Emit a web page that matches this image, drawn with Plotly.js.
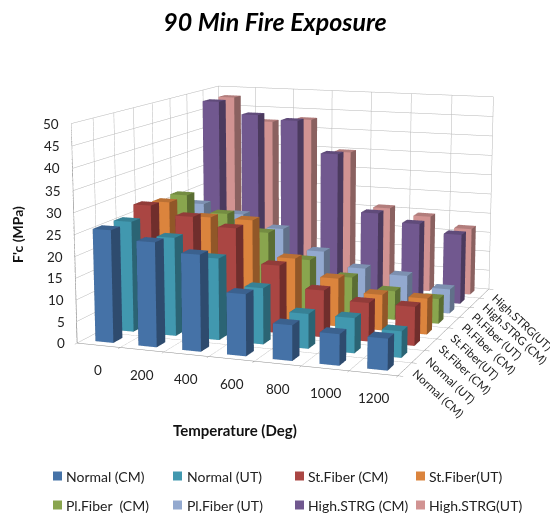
<!DOCTYPE html>
<html><head><meta charset="utf-8">
<script src="https://cdn.plot.ly/plotly-3.0.1.min.js"></script>
<style>html,body{margin:0;padding:0;background:#fff;overflow:hidden}#w{position:relative;width:550px;height:518px;overflow:hidden}#c{position:absolute}</style></head>
<body><div id="w"><div id="c"></div></div>
<script>
const temperatures = ['0','200','400','600','800','1000','1200'];
const seriesNames = ['Normal (CM)','Normal (UT)','St.Fiber (CM)','St.Fiber(UT)','Pl.Fiber  (CM)','Pl.Fiber (UT)','High.STRG (CM)','High.STRG(UT)'];
const normalCM = [26,24,22,14,8,7,7];
const normalUT = [26,23,19,13,8,8,6];
const stFiberCM = [28,26,24,16,11,9,9];
const stFiberUT = [27,24,24,15.5,11.5,8.5,8.5];
const plFiberCM = [27,23,19,13,9.5,7,6];
const plFiberUT = [23,21,18,13,9.5,8.5,6];
const highCM = [48,45,44,36,21.5,19.5,17.5];
const highUT = [48,42,43,35,21,19.5,17];
const colours = ['#4572A7','#4198AF','#AA4643','#DB843D','#89A54E','#93A9CF','#71588F','#D19392'];
const zTicks = [0,5,10,15,20,25,30,35,40,45,50];
const allValues = [normalCM,normalUT,stFiberCM,stFiberUT,plFiberCM,plFiberUT,highCM,highUT];

const W=620,H=1300,cx=297,cy=213;
const ox=cx-W/2, oy=cy-H/2;
const holder=document.getElementById('c');
holder.style.left=ox+'px';holder.style.top=oy+'px';holder.style.width=W+'px';holder.style.height=H+'px';
const fx=p=>(p-ox)/W, fy=p=>1-(p-oy)/H;
const barW = 0.21, barD = 0.22;
function shade(hex,f){
  const n=parseInt(hex.slice(1),16);
  const c=[n>>16,(n>>8)&255,n&255].map(v=>Math.round(v*f));
  return 'rgb('+c.join(',')+')';
}
const traces = allValues.map((vals,s)=>{
  const X=[],Y=[],Z=[],I=[],J=[],K=[],F=[];
  const front=colours[s], side=shade(colours[s],0.66), top=shade(colours[s],0.85);
  vals.forEach((v,c)=>{
    const b=X.length;
    const x0=c-barW,x1=c+barW,y0=s-barD,y1=s+barD;
    [[x0,y0,0],[x1,y0,0],[x1,y1,0],[x0,y1,0],[x0,y0,v],[x1,y0,v],[x1,y1,v],[x0,y1,v]].forEach(p=>{X.push(p[0]);Y.push(p[1]);Z.push(p[2]);});
    const faces=[[0,1,5,front],[0,5,4,front],[1,2,6,side],[1,6,5,side],[4,5,6,top],[4,6,7,top],[0,3,7,side],[0,7,4,side],[3,2,6,side],[3,6,7,side],[0,1,2,side],[0,2,3,side]];
    faces.forEach(f=>{I.push(b+f[0]);J.push(b+f[1]);K.push(b+f[2]);F.push(f[3]);});
  });
  return {type:'mesh3d',name:seriesNames[s],x:X,y:Y,z:Z,i:I,j:J,k:K,facecolor:F,flatshading:true,
    lighting:{ambient:1,diffuse:0,specular:0,roughness:1,fresnel:0},hoverinfo:'skip',showscale:false,showlegend:false};
});
const zAxisLine={type:'scatter3d',mode:'lines',x:[-0.5,-0.5],y:[-0.5,-0.5],z:[0,50],line:{color:'#8a8a8a',width:1.5},hoverinfo:'skip',showlegend:false};

const fam='Lato, "Open Sans", sans-serif';
const tickFont={family:fam,size:13.5,color:'#222'};
const sceneAnn=[];
seriesNames.forEach((n,s)=>sceneAnn.push({x:6.5,y:s,z:0,xshift:3,yshift:5,text:n,textangle:43,showarrow:false,xanchor:'left',yanchor:'top',font:{family:fam,size:11.5,color:'#222'}}));
temperatures.forEach((t,i)=>sceneAnn.push({x:i,y:-0.5,z:0,text:t,showarrow:false,xanchor:'center',yanchor:'middle',yshift:-25,font:tickFont}));
zTicks.forEach(v=>sceneAnn.push({x:-0.5,y:-0.5,z:v,text:String(v),showarrow:false,xanchor:'right',yanchor:'middle',xshift:-10,font:tickFont}));

const legX=[53,173,295,416], legTextX=[64,185,306,427], legY=[476,505];
const shapes=[], paperAnn=[
  {xref:'paper',yref:'paper',x:fx(17),y:fy(235),xanchor:'center',yanchor:'middle',text:"F'c (MPa)",textangle:-90,showarrow:false,font:{family:fam,size:14,weight:'bold',color:'#111'}},
  {xref:'paper',yref:'paper',x:fx(235),y:fy(430),xanchor:'center',yanchor:'middle',text:'Temperature (Deg)',showarrow:false,font:{family:fam,size:15,weight:'bold',color:'#111'}}
];
seriesNames.forEach((n,s)=>{
  const r=Math.floor(s/4),c=s%4;
  shapes.push({type:'rect',xref:'paper',yref:'paper',x0:fx(legX[c]),x1:fx(legX[c]+9),y0:fy(legY[r]+4.5),y1:fy(legY[r]-4.5),fillcolor:colours[s],line:{width:0}});
  paperAnn.push({xref:'paper',yref:'paper',x:fx(legTextX[c]),y:fy(legY[r]),xanchor:'left',yanchor:'middle',text:n,showarrow:false,font:{family:fam,size:14,color:'#222'}});
});
const axisBase={showbackground:false,gridcolor:'#b5b5b5',linecolor:'#8a8a8a',linewidth:1,zeroline:false,showspikes:false,showticklabels:false,tickcolor:'#8a8a8a',title:{text:''}};
const boundaries=n=>Array.from({length:n+1},(_,i)=>i-0.5);
const layout={
  width:W,height:H,margin:{l:0,r:0,t:0,b:0},paper_bgcolor:'#fff',showlegend:false,
  title:{text:'90 Min Fire Exposure',x:fx(275),xanchor:'center',y:fy(22),yanchor:'middle',font:{family:fam,size:25,weight:'bold',style:'italic',color:'#000'}},
  annotations:paperAnn,shapes:shapes,
  scene:{
    domain:{x:[0,1],y:[0,1]},
    aspectmode:'manual',aspectratio:{x:1.51,y:1.67,z:1},
    camera:{eye:{x:2.53,y:-6.95,z:1.39},center:{x:0,y:0,z:0},up:{x:0,y:0,z:1},projection:{type:'perspective'}},
    xaxis:Object.assign({},axisBase,{range:[-0.5,6.5],tickvals:boundaries(7),showline:true,ticks:'outside',ticklen:4}),
    yaxis:Object.assign({},axisBase,{range:[-0.5,7.5],tickvals:boundaries(8),showline:true,ticks:'outside',ticklen:4}),
    zaxis:Object.assign({},axisBase,{range:[0,50],tickvals:zTicks,showline:false,ticks:''}),
    annotations:sceneAnn
  }
};
Plotly.newPlot('c',traces.concat([zAxisLine]),layout,{displayModeBar:false});
</script></body></html>
